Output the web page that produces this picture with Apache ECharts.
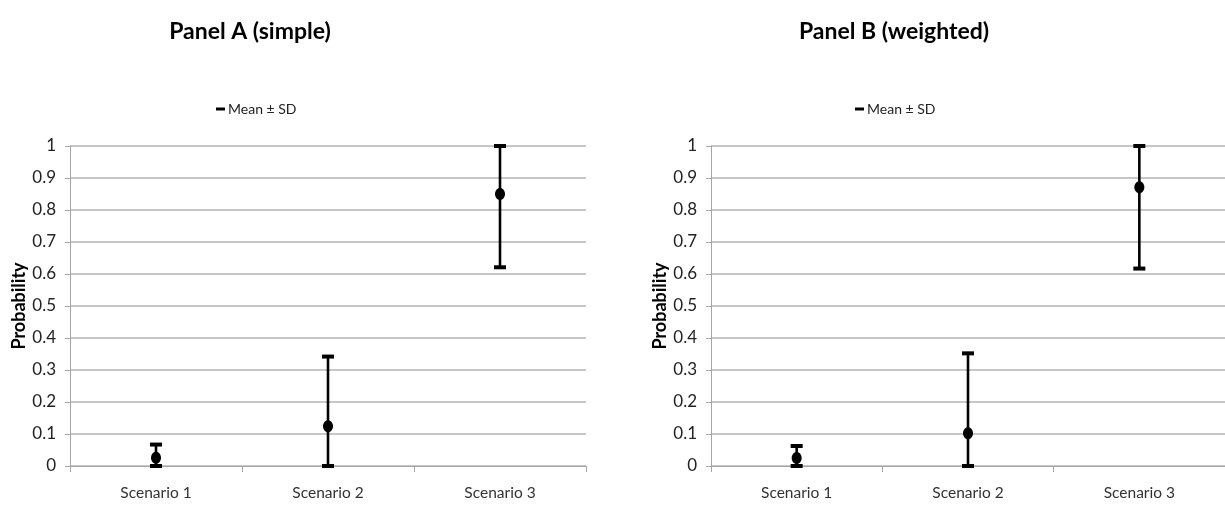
<!DOCTYPE html>
<html>
<head>
<meta charset="utf-8">
<script src="https://cdn.jsdelivr.net/npm/echarts@6/dist/echarts.min.js"></script>
<style>
  html, body { margin: 0; padding: 0; background: #fff; }
  #main { width: 1225px; height: 506px; }
</style>
</head>
<body>
<div id="main"></div>
<script>
// categories and tick labels
const categories = ['Scenario 1', 'Scenario 2', 'Scenario 3']
const yTicks = [0, 0.1, 0.2, 0.3, 0.4, 0.5, 0.6, 0.7, 0.8, 0.9, 1]

// Panel A (simple): mean and the ends of the ± SD bars
const meanA = [0.026, 0.124, 0.85]
const lowA = [0, 0, 0.621]
const highA = [0.067, 0.342, 1.0]

// Panel B (weighted)
const meanB = [0.025, 0.102, 0.871]
const lowB = [0, 0, 0.617]
const highB = [0.0625, 0.352, 1.0]

const FONT = 'Lato'

// rows: [category index, low, high, mean]
function rows (low, high, mean) {
  return categories.map((c, i) => [i, low[i], high[i], mean[i]])
}

// error bar with caps + mean dot
function renderBar (params, api) {
  const x = api.value(0)
  const lo = api.coord([x, api.value(1)])
  const hi = api.coord([x, api.value(2)])
  const mid = api.coord([x, api.value(3)])
  const capW = 12
  const capH = 4
  return {
    type: 'group',
    children: [
      {
        type: 'line',
        shape: { x1: hi[0], y1: hi[1], x2: lo[0], y2: lo[1] },
        style: { stroke: '#000', lineWidth: 2.6 }
      },
      {
        type: 'rect',
        shape: { x: hi[0] - capW / 2, y: hi[1] - capH / 2, width: capW, height: capH },
        style: { fill: '#000' }
      },
      {
        type: 'rect',
        shape: { x: lo[0] - capW / 2, y: lo[1] - capH / 2, width: capW, height: capH },
        style: { fill: '#000' }
      },
      {
        type: 'ellipse',
        shape: { cx: mid[0], cy: mid[1], rx: 5, ry: 6 },
        style: { fill: '#000' }
      }
    ]
  }
}

function xAxis (gridIndex) {
  return {
    type: 'category',
    gridIndex,
    data: categories,
    axisLine: { lineStyle: { color: '#a6a6a6', width: 1 } },
    axisTick: { show: true, length: 6, lineStyle: { color: '#a6a6a6' } },
    axisLabel: { color: '#333', fontFamily: FONT, fontSize: 15.5, margin: 19 },
    splitLine: { show: false }
  }
}

function yAxis (gridIndex) {
  return {
    type: 'value',
    gridIndex,
    min: 0,
    max: 1,
    interval: 0.1,
    name: 'Probability',
    nameLocation: 'middle',
    nameRotate: 90,
    nameGap: 42,
    nameTextStyle: { color: '#000', fontFamily: FONT, fontSize: 18, fontWeight: 'bold' },
    axisLine: { show: true, lineStyle: { color: '#a6a6a6', width: 1 } },
    axisTick: { show: true, length: 5, lineStyle: { color: '#a6a6a6' } },
    axisLabel: {
      color: '#222',
      fontFamily: FONT,
      fontSize: 17,
      margin: 14,
      formatter: v => String(yTicks.find(t => Math.abs(t - v) < 1e-9) ?? v)
    },
    splitLine: { show: true, lineStyle: { color: '#b3b3b3', width: 1.5 } }
  }
}

const legendCommon = {
  data: [{ name: 'Mean ± SD', icon: 'rect', itemStyle: { color: '#000' } }],
  itemWidth: 9,
  itemHeight: 3,
  itemGap: 0,
  textStyle: { color: '#222', fontFamily: FONT, fontSize: 14, padding: [0, 0, 0, -2] },
  selectedMode: false
}

const option = {
  backgroundColor: '#fff',
  animation: false,
  title: [
    {
      text: 'Panel A (simple)',
      left: 245,
      top: 15,
      textAlign: 'center',
      textStyle: { color: '#000', fontFamily: FONT, fontSize: 23, fontWeight: 'bold' }
    },
    {
      text: 'Panel B (weighted)',
      left: 889,
      top: 15,
      textAlign: 'center',
      textStyle: { color: '#000', fontFamily: FONT, fontSize: 23, fontWeight: 'bold' }
    }
  ],
  legend: [
    Object.assign({}, legendCommon, { left: 211, top: 97 }),
    Object.assign({}, legendCommon, { left: 850, top: 97 })
  ],
  grid: [
    { left: 70, top: 146, width: 516, height: 320 },
    { left: 711, top: 146, width: 515, height: 320 }
  ],
  xAxis: [xAxis(0), xAxis(1)],
  yAxis: [yAxis(0), yAxis(1)],
  series: [
    {
      name: 'Mean ± SD',
      type: 'custom',
      xAxisIndex: 0,
      yAxisIndex: 0,
      itemStyle: { color: '#000' },
      renderItem: renderBar,
      encode: { x: 0, y: [1, 2, 3] },
      data: rows(lowA, highA, meanA),
      clip: false
    },
    {
      name: 'Mean ± SD',
      type: 'custom',
      xAxisIndex: 1,
      yAxisIndex: 1,
      itemStyle: { color: '#000' },
      renderItem: renderBar,
      encode: { x: 0, y: [1, 2, 3] },
      data: rows(lowB, highB, meanB),
      clip: false
    }
  ]
}

const chart = echarts.init(document.getElementById('main'), null, { renderer: 'canvas' })
chart.setOption(option)
</script>
</body>
</html>
